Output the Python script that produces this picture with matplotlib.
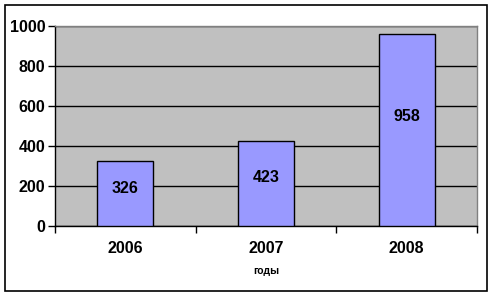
import matplotlib
matplotlib.use("Agg")
import matplotlib.pyplot as plt
from matplotlib.patches import Rectangle

years = ["2006", "2007", "2008"]
values = [326, 423, 958]
yticks = [0, 200, 400, 600, 800, 1000]
xlabel = "годы"

plt.rcParams['font.family'] = ['Liberation Sans', 'DejaVu Sans']

W, H = 491, 296
fig = plt.figure(figsize=(W / 100, H / 100), dpi=100)
fig.patch.set_facecolor("white")

# outer chart border
fig.add_artist(Rectangle((5 / W, 1 - 291 / H), (487 - 5) / W, (291 - 5) / H,
                         transform=fig.transFigure, fill=False,
                         edgecolor="black", linewidth=1.2))

left, right, top, bottom = 55, 477, 26, 226
ax = fig.add_axes([left / W, 1 - bottom / H, (right - left) / W, (bottom - top) / H])
ax.set_facecolor("#C0C0C0")

x = list(range(len(years)))
ax.bar(x, values, width=0.4, color="#9999FF", edgecolor="black", linewidth=1.0, zorder=3)
for xi, v in zip(x, values):
    ax.text(xi, v * 0.57, str(v), ha="center", va="center",
            fontsize=11.5, fontweight="bold", zorder=4)

ax.set_xlim(-0.5, len(years) - 0.5)
ax.set_ylim(0, 1000)
ax.set_yticks(yticks)
ax.set_yticklabels([str(t) for t in yticks], fontsize=11.5, fontweight="bold")
ax.yaxis.grid(True, color="black", linewidth=1.0, zorder=1)
ax.set_axisbelow(True)

# category ticks at boundaries, labels centered
ax.set_xticks([i - 0.5 for i in range(len(years) + 1)])
ax.set_xticklabels([])
ax.set_xticks(x, minor=True)
ax.set_xticklabels(years, minor=True, fontsize=11.5, fontweight="bold")
ax.tick_params(axis="x", which="minor", length=0, pad=11)
ax.tick_params(axis="x", which="major", length=5, direction="out", width=1)
ax.tick_params(axis="y", length=5, direction="out", width=1, pad=2)

ax.set_xlabel(xlabel, fontsize=7.5, fontweight="bold", labelpad=7)

for s in ["top", "right"]:
    ax.spines[s].set_color("#808080")
    ax.spines[s].set_linewidth(1.0)
for s in ["left", "bottom"]:
    ax.spines[s].set_color("black")
    ax.spines[s].set_linewidth(1.0)

fig.savefig("out.png", dpi=100)
